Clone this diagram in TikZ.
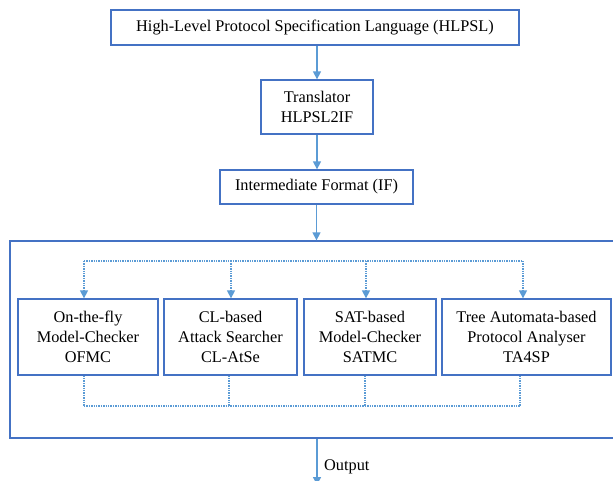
\documentclass[tikz,border=0pt]{standalone}
\usepackage{fontspec}
\setmainfont{Liberation Serif}
\usetikzlibrary{arrows.meta}
\definecolor{boxblue}{HTML}{4472C4}
\definecolor{lineblue}{HTML}{5B9BD5}
\begin{document}
\begin{tikzpicture}[x=1pt,y=-1pt,
  box/.style={draw=boxblue,line width=1.3pt,inner sep=0pt,align=center,
    font=\fontsize{16.3}{20}\selectfont,text=black},
  arr/.style={draw=lineblue,line width=1.3pt,-{Triangle[length=8pt,width=8pt]}},
  dotline/.style={draw=lineblue,line width=1.3pt,dash pattern=on 1.3pt off 1.1pt},
  dotarr/.style={dotline,-{Triangle[length=8pt,width=8pt]}}]
\clip (0,0) rectangle (613,480);
\fill[white] (0,0) rectangle (613,480);
% top chain
\node[box,minimum width=408pt,minimum height=35pt] (hlpsl) at (315,27.5)
  {High-Level Protocol Specification Language (HLPSL)};
\node[box,minimum width=112pt,minimum height=54pt] (trans) at (317,107)
  {Translator\\HLPSL2IF};
\node[box,minimum width=193pt,minimum height=34pt] (if) at (316.5,187)
  {Intermediate Format (IF)};
% big container
\node[box,minimum width=630pt,minimum height=197pt] (tools) at (325,339.5) {};
% tool boxes
\node[box,minimum width=140pt,minimum height=76pt] (o1) at (88,337)
  {On-the-fly\\Model-Checker\\OFMC};
\node[box,minimum width=133pt,minimum height=76pt] (o2) at (230.5,337)
  {CL-based\\Attack Searcher\\CL-AtSe};
\node[box,minimum width=132pt,minimum height=76pt] (o3) at (370,337)
  {SAT-based\\Model-Checker\\SATMC};
\node[box,minimum width=169pt,minimum height=76pt] (o4) at (526.5,337)
  {Tree Automata-based\\Protocol Analyser\\TA4SP};
% solid arrows
\draw[arr] (hlpsl.south -| trans.north) -- (trans.north);
\draw[arr] (trans.south) -- (trans.south |- if.north);
\draw[arr] (if.south) -- (if.south |- tools.north);
\coordinate (outend) at (317,485);
\draw[arr] (tools.south -| outend) -- (outend);
\node[anchor=west,inner sep=0pt,font=\fontsize{16.3}{20}\selectfont] (outlbl) at (324,467) {Output};
% dotted distribution
\coordinate (t1) at (84,261);
\coordinate (t2) at (231,261);
\coordinate (t3) at (366,261);
\coordinate (t4) at (523,261);
\draw[dotline] (t1) -- (t4);
\draw[dotarr] (t1) -- (t1 |- o1.north);
\draw[dotarr] (t2) -- (t2 |- o2.north);
\draw[dotarr] (t3) -- (t3 |- o3.north);
\draw[dotarr] (t4) -- (t4 |- o4.north);
% dotted collection
\coordinate (b1) at (84,406);
\coordinate (b2) at (229,406);
\coordinate (b3) at (365,406);
\coordinate (b4) at (520,406);
\draw[dotline] (b1) -- (b4);
\draw[dotline] (b1 |- o1.south) -- (b1);
\draw[dotline] (b2 |- o2.south) -- (b2);
\draw[dotline] (b3 |- o3.south) -- (b3);
\draw[dotline] (b4 |- o4.south) -- (b4);
\end{tikzpicture}
\end{document}
